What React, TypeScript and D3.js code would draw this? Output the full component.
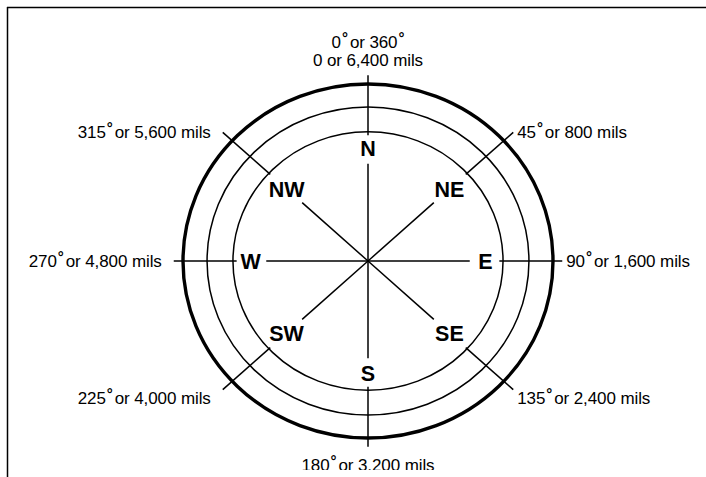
import * as d3 from "d3";

// compass points, bearings in degrees and in mils
const points = ["N", "NE", "E", "SE", "S", "SW", "W", "NW"];
const degrees = [0, 45, 90, 135, 180, 225, 270, 315];
const mils = [0, 800, 1600, 2400, 3200, 4000, 4800, 5600];
// the three rings, outer ring = 1
const rings = [1, 0.87, 0.73];

const W = 706;
const H = 477;
const cx = 368;
const cy = 261;

const xScale = d3.scaleLinear().domain([-1, 1]).range([cx - 185, cx + 185]);
const yScale = d3.scaleLinear().domain([-1, 1]).range([cy + 177, cy - 177]);
// the drawing is a little squashed, diagonals sit a bit off 45
const angleScale = d3
  .scaleLinear()
  .domain([0, 45, 90, 135, 180, 225, 270, 315, 360])
  .range([0, 47.2, 90, 132.8, 180, 227.2, 270, 312.8, 360]);

const fmt = d3.format(",");
const FONT = "'Liberation Sans', Arial, sans-serif";

function pos(bearing: number, r: number): [number, number] {
  const a = (angleScale(bearing) * Math.PI) / 180;
  return [xScale(r * Math.sin(a)), yScale(r * Math.cos(a))];
}

// raised degree ring
const ring = (key: string) => (
  <tspan key={key} dx={1} dy={-5} fontSize={15} fontWeight="bold">°</tspan>
);

// number with a raised degree ring, then the rest of the text
function degText(num: string, rest: string) {
  return [
    <tspan key="n">{num}</tspan>,
    ring("d"),
    <tspan key="r" dx={2} dy={5}>{rest}</tspan>,
  ];
}

export default function App() {
  const lineProps = { stroke: "#000", strokeWidth: 1.5, fill: "none" };

  return (
    <svg
      width={W}
      height={H}
      style={{ position: "absolute", left: 0, top: 0, background: "#fff" }}
    >
      <defs>
        <clipPath id="cut">
          <rect x={0} y={0} width={W} height={470} />
        </clipPath>
      </defs>
      {/* frame */}
      <line x1={7} x2={W} y1={7.5} y2={7.5} stroke="#000" strokeWidth={1.5} />
      <line x1={7.5} x2={7.5} y1={7} y2={H} stroke="#000" strokeWidth={1.5} />

      {rings.map((r, i) => (
        <ellipse
          key={i}
          cx={cx}
          cy={cy}
          rx={xScale(r) - cx}
          ry={cy - yScale(r)}
          {...lineProps}
          strokeWidth={i === 0 ? 3.4 : 1.5}
        />
      ))}

      {degrees.map((d, i) => {
        const cardinal = d % 90 === 0;
        const segs = cardinal
          ? [
              [0, 0.55],
              [0.71, 1.05],
            ]
          : [
              [0, 0.485],
              [0.72, 1.07],
            ];
        return segs.map(([a, b], j) => {
          const [x1, y1] = pos(d, a);
          const [x2, y2] = pos(d, b);
          return <line key={`${i}-${j}`} x1={x1} y1={y1} x2={x2} y2={y2} {...lineProps} />;
        });
      })}

      {points.map((p, i) => {
        const d = degrees[i];
        const [x, y] = pos(d, d % 90 === 0 ? 0.635 : 0.6);
        return (
          <text
            key={p}
            x={x}
            y={y}
            dy="0.36em"
            textAnchor="middle"
            fontFamily={FONT}
            fontWeight="bold"
            fontSize={21.5}
          >
            {p}
          </text>
        );
      })}

      {degrees.map((d, i) => {
        const cardinal = d % 90 === 0;
        const [x, y] = pos(d, cardinal ? 1.05 : 1.07);
        const s = Math.sin((d * Math.PI) / 180);
        const c = Math.cos((d * Math.PI) / 180);
        const anchor = s > 0.1 ? "start" : s < -0.1 ? "end" : "middle";
        const dx = s > 0.1 ? 4 : s < -0.1 ? -12 : 0;
        const common = {
          fontFamily: FONT,
          fontSize: 17,
          letterSpacing: -0.1,
          textAnchor: anchor,
          fill: "#000",
        } as const;
        if (d === 0) {
          return (
            <g key={d}>
              <text x={x} y={y - 27} {...common}>
                <tspan>0</tspan>
                {ring("a")}
                <tspan dx={2} dy={5}>or 360</tspan>
                {ring("b")}
              </text>
              <text x={x} y={y - 9} {...common}>
                {`0 or ${fmt(6400)} mils`}
              </text>
            </g>
          );
        }
        let dy = 6;
        if (d === 180) dy = 24;
        else if (c < -0.1) dy = 14;
        return (
          <text
            key={d}
            x={x + dx}
            y={y + dy}
            {...common}
            clipPath={d === 180 ? "url(#cut)" : undefined}
          >
            {degText(String(d), `or ${fmt(mils[i])} mils`)}
          </text>
        );
      })}
    </svg>
  );
}
